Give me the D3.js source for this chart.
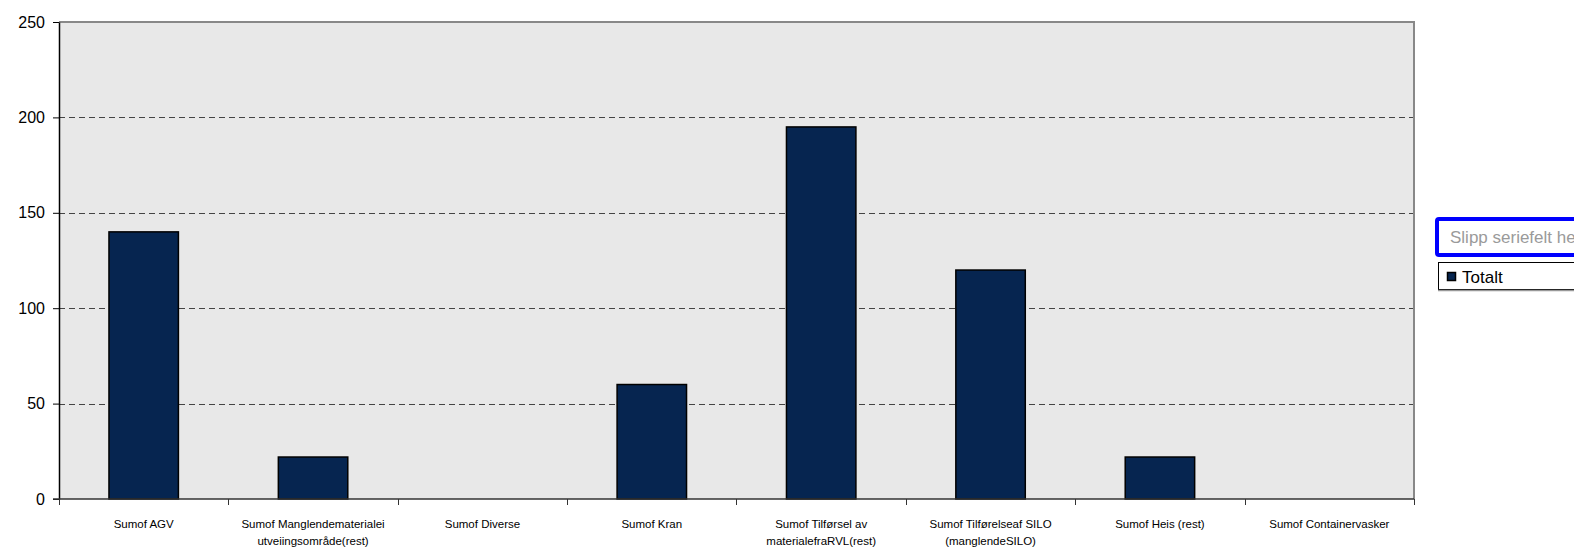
<!DOCTYPE html>
<html>
<head>
<meta charset="utf-8">
<script src="https://cdn.jsdelivr.net/npm/d3@7"></script>
<style>
  html, body { margin: 0; padding: 0; background: #ffffff; overflow: hidden; }
  svg { display: block; font-family: "Liberation Sans", Arial, sans-serif; }
</style>
</head>
<body>
<svg id="chart" width="1574" height="552"></svg>
<script>
// ---- data ----
const categories = [
  "Sumof AGV",
  "Sumof Manglendematerialei|utveiingsområde(rest)",
  "Sumof Diverse",
  "Sumof Kran",
  "Sumof Tilførsel av|materialefraRVL(rest)",
  "Sumof Tilførelseaf SILO|(manglendeSILO)",
  "Sumof Heis (rest)",
  "Sumof Containervasker"
];
const values = [140, 22, 0, 60, 195, 120, 22, 0];
const yTicks = [0, 50, 100, 150, 200, 250];
const seriesName = "Totalt";
const dropLabel = "Slipp seriefelt her";

// ---- layout ----
const plotL = 59, plotR = 1414, plotT = 22, plotB = 499;
const barColor = "#062550";

const svg = d3.select("#chart");

const x = d3.scaleBand()
  .domain(categories)
  .range([plotL, plotR])
  .paddingInner(0.59)
  .paddingOuter(0.295);

const y = d3.scaleLinear().domain([0, 250]).range([plotB, plotT]);

// plot background
svg.append("rect")
  .attr("x", plotL).attr("y", plotT)
  .attr("width", plotR - plotL).attr("height", plotB - plotT)
  .attr("fill", "#e8e8e8");

// gridlines
svg.append("g")
  .selectAll("line")
  .data(yTicks.filter(d => d > 0 && d < 250))
  .join("line")
  .attr("x1", plotL).attr("x2", plotR)
  .attr("y1", d => Math.round(y(d)) + 0.5).attr("y2", d => Math.round(y(d)) + 0.5)
  .attr("stroke", "#444")
  .attr("stroke-width", 1)
  .attr("stroke-dasharray", "6,4");

// top and right borders
svg.append("line")
  .attr("x1", plotL).attr("x2", plotR + 1)
  .attr("y1", plotT).attr("y2", plotT)
  .attr("stroke", "#888").attr("stroke-width", 2);
svg.append("line")
  .attr("x1", plotR).attr("x2", plotR)
  .attr("y1", plotT).attr("y2", plotB)
  .attr("stroke", "#888").attr("stroke-width", 2);

// bars
svg.append("g")
  .selectAll("rect")
  .data(categories.map((c, i) => ({ c, v: values[i] })).filter(d => d.v > 0))
  .join("rect")
  .attr("x", d => x(d.c))
  .attr("y", d => y(d.v))
  .attr("width", x.bandwidth())
  .attr("height", d => y(0) - y(d.v))
  .attr("fill", barColor)
  .attr("stroke", "#000")
  .attr("stroke-width", 1.5);

// y axis
const yAxis = d3.axisLeft(y).tickValues(yTicks).tickSize(6).tickSizeOuter(0);
const gy = svg.append("g")
  .attr("transform", `translate(${plotL},0)`)
  .call(yAxis);
gy.select(".domain").attr("stroke", "#000").attr("stroke-width", 1.5);
gy.selectAll(".tick line").attr("stroke", "#000");
gy.selectAll(".tick text")
  .attr("x", -14)
  .attr("fill", "#000")
  .style("font-size", "16px")
  .style("font-family", "'Liberation Sans', Arial, sans-serif");

// x axis line
svg.append("line")
  .attr("x1", plotL - 6).attr("x2", plotR)
  .attr("y1", plotB).attr("y2", plotB)
  .attr("stroke", "#333").attr("stroke-width", 1.5);

// x ticks at category boundaries
const step = x.step();
const boundaries = categories.map((c) => x(c) - x.paddingInner() * step / 2);
boundaries.push(plotR);
svg.append("g")
  .selectAll("line")
  .data(boundaries)
  .join("line")
  .attr("x1", d => Math.round(d) + 0.5).attr("x2", d => Math.round(d) + 0.5)
  .attr("y1", plotB).attr("y2", plotB + 6)
  .attr("stroke", "#333").attr("stroke-width", 1);

// x labels
const xl = svg.append("g")
  .selectAll("text")
  .data(categories)
  .join("text")
  .attr("x", d => x(d) + x.bandwidth() / 2)
  .attr("y", 528)
  .attr("text-anchor", "middle")
  .attr("fill", "#000")
  .style("font-size", "11.5px");
xl.each(function(d) {
  const parts = d.split("|");
  const t = d3.select(this);
  parts.forEach((p, i) => {
    t.append("tspan")
      .attr("x", x(d) + x.bandwidth() / 2)
      .attr("dy", i === 0 ? 0 : 17)
      .text(p);
  });
});

// legend: drop field box
svg.append("rect")
  .attr("x", 1437).attr("y", 219)
  .attr("width", 200).attr("height", 36)
  .attr("fill", "#fff")
  .attr("stroke", "#0000ff").attr("stroke-width", 4)
  .attr("rx", 2);
svg.append("text")
  .attr("x", 1450).attr("y", 243)
  .attr("fill", "#9a9a9a")
  .style("font-size", "17px")
  .text(dropLabel);

// legend: series box
svg.append("rect")
  .attr("x", 1438.5).attr("y", 262.5)
  .attr("width", 200).attr("height", 27)
  .attr("fill", "#fff")
  .attr("stroke", "#000").attr("stroke-width", 1);
svg.append("line")
  .attr("x1", 1438).attr("x2", 1574)
  .attr("y1", 290.5).attr("y2", 290.5)
  .attr("stroke", "#999").attr("stroke-width", 1.5);
svg.append("rect")
  .attr("x", 1447.5).attr("y", 272.5)
  .attr("width", 8).attr("height", 8)
  .attr("fill", barColor)
  .attr("stroke", "#000").attr("stroke-width", 1.5);
svg.append("text")
  .attr("x", 1462).attr("y", 283)
  .attr("fill", "#000")
  .style("font-size", "17px")
  .text(seriesName);
</script>
</body>
</html>
